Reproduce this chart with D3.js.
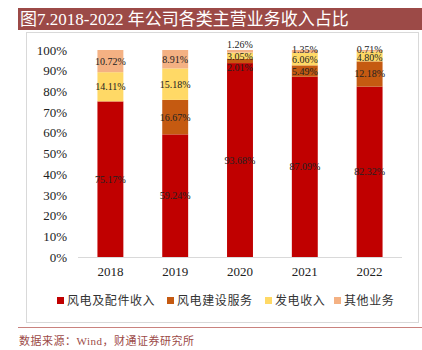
<!DOCTYPE html>
<html>
<head>
<meta charset="utf-8">
<script src="https://cdn.jsdelivr.net/npm/d3@7"></script>
<style>
  body { margin: 0; background: #fff; }
  svg text { font-family: "Liberation Serif", "Noto Sans CJK SC", serif; }
</style>
</head>
<body>
<div class="continer"></div>
<script>
var years = ['2018', '2019', '2020', '2021', '2022'];
var seriesNames = ['风电及配件收入', '风电建设服务', '发电收入', '其他业务'];
var windParts = [75.17, 59.24, 93.68, 87.09, 82.32];
var windBuild = [0, 16.67, 2.01, 5.49, 12.18];
var power = [14.11, 15.18, 3.05, 6.06, 4.80];
var others = [10.72, 8.91, 1.26, 1.35, 0.71];
var yTicks = [0, 10, 20, 30, 40, 50, 60, 70, 80, 90, 100];
var colors = ['#C00000', '#C55A11', '#FFD966', '#F4B183'];

var WIDTH = 422, HEIGHT = 350;

var svg = d3.select('.continer').append('svg')
	.attr('width', WIDTH)
	.attr('height', HEIGHT);

// title bar
svg.append('rect')
	.attr('x', 18).attr('y', 8).attr('width', 404).attr('height', 22)
	.attr('fill', '#9C4A47');
svg.append('text')
	.attr('x', 20).attr('y', 25)
	.attr('fill', '#fff')
	.style('font-size', '17px')
	.text('图7.2018-2022 年公司各类主营业务收入占比');

// chart frame
svg.append('rect')
	.attr('x', 26.5).attr('y', 32.5).attr('width', 392).attr('height', 290)
	.attr('fill', 'none')
	.attr('stroke', '#d9d9d9');

var xScale = d3.scaleBand().domain(years).range([78, 402]).paddingInner(0.6).paddingOuter(0.3);
var yScale = d3.scaleLinear().domain([0, 100]).range([257, 50]);

var rows = years.map(function(y, i) {
	return { year: y, a: windParts[i], b: windBuild[i], c: power[i], d: others[i] };
});
var stack = d3.stack().keys(['a', 'b', 'c', 'd']);
var layers = stack(rows);

var g = svg.append('g');
layers.forEach(function(layer, k) {
	g.selectAll('.bar' + k).data(layer).enter()
		.append('rect')
		.attr('x', function(d) { return xScale(d.data.year); })
		.attr('width', xScale.bandwidth())
		.attr('y', function(d) { return yScale(d[1]); })
		.attr('height', function(d) { return yScale(d[0]) - yScale(d[1]); })
		.attr('fill', colors[k]);
});

// value labels (thin top segments get nudged apart a little)
layers.forEach(function(layer, k) {
	g.selectAll('.lab' + k).data(layer.filter(function(d) { return d[1] - d[0] > 0; })).enter()
		.append('text')
		.attr('x', function(d) { return xScale(d.data.year) + xScale.bandwidth() / 2; })
		.attr('y', function(d) {
			var mid = yScale((d[0] + d[1]) / 2);
			var thin = yScale(d[0]) - yScale(d[1]) < 10;
			if (k === 3 && d.data.year === '2020') return yScale(100) - 6;
			if (k === 1 && d.data.year === '2020') return mid + 6;
			if (k === 2 && d.data.year === '2020') return mid + 1;
			if (k === 3 && thin) return mid - 1.5;
			if (k === 2 && thin) return mid + 1.5;
			return mid;
		})
		.attr('dy', '0.35em')
		.attr('text-anchor', 'middle')
		.style('font-size', '10px')
		.attr('fill', '#222')
		.text(function(d) { return (d[1] - d[0]).toFixed(2) + '%'; });
});

// y axis
var yAxis = d3.axisLeft(yScale).tickValues(yTicks).tickSize(0).tickPadding(0)
	.tickFormat(function(d) { return d + '%'; });
var ya = svg.append('g').attr('transform', 'translate(67,0)').call(yAxis);
ya.select('.domain').remove();
ya.selectAll('text').style('font-size', '13px').attr('fill', '#222')
	.style('font-family', '"Liberation Serif", serif');

// x axis
var xAxis = d3.axisBottom(xScale).tickSize(0).tickPadding(10);
var xa = svg.append('g').attr('transform', 'translate(0,257)').call(xAxis);
xa.select('.domain').attr('stroke', '#d9d9d9').attr('d', 'M78,0.5H402');
xa.selectAll('text').style('font-size', '13px').attr('fill', '#222')
	.style('font-family', '"Liberation Serif", serif');

// legend
var legendX = [57, 167, 265, 334];
var leg = svg.append('g');
seriesNames.forEach(function(name, i) {
	leg.append('rect')
		.attr('x', legendX[i]).attr('y', 297).attr('width', 7).attr('height', 7)
		.attr('fill', colors[i]);
	leg.append('text')
		.attr('x', legendX[i] + 10).attr('y', 305)
		.style('font-size', '12px')
		.style('letter-spacing', '0.6px')
		.attr('fill', '#333')
		.text(name);
});

// footer
svg.append('line')
	.attr('x1', 18).attr('x2', 422).attr('y1', 327.5).attr('y2', 327.5)
	.attr('stroke', '#C9827E');
svg.append('text')
	.attr('x', 19).attr('y', 345)
	.style('font-size', '11px')
	.style('letter-spacing', '0.5px')
	.attr('fill', '#9C4A47')
	.text('数据来源：Wind，财通证券研究所');
</script>
</body>
</html>
